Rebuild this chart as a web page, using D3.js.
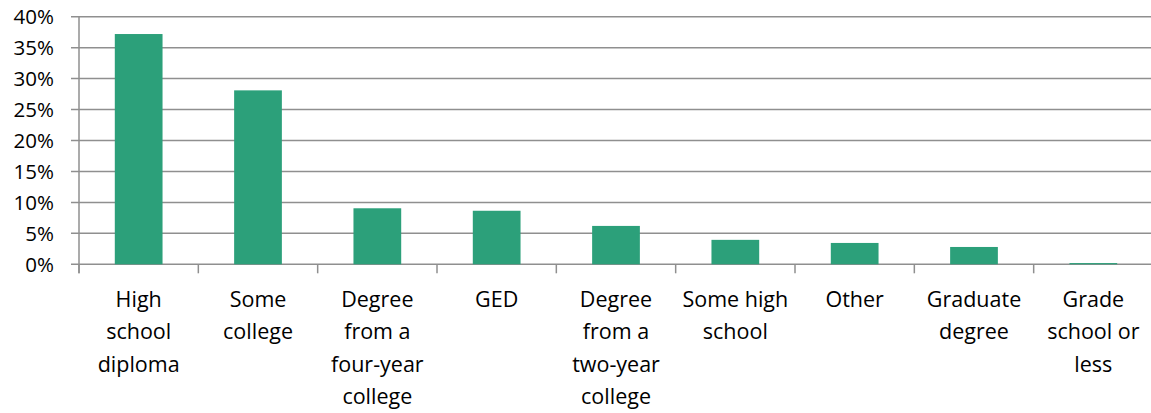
<!DOCTYPE html>
<html><head><meta charset="utf-8">
<script src="https://cdn.jsdelivr.net/npm/d3@7"></script>
<style>
html,body{margin:0;padding:0;background:#fff;}
svg{display:block;font-family:"Open Sans",sans-serif;}
</style></head>
<body>
<svg id="chart" width="1151" height="413"></svg>
<script>
const categories = ["High\nschool\ndiploma","Some\ncollege","Degree\nfrom a\nfour-year\ncollege","GED","Degree\nfrom a\ntwo-year\ncollege","Some high\nschool","Other","Graduate\ndegree","Grade\nschool or\nless"];
const values = [37.2, 28.1, 9.05, 8.65, 6.2, 3.95, 3.45, 2.8, 0.2];
const yTicks = [0,5,10,15,20,25,30,35,40];

const svg = d3.select("#chart");
const x0 = 79, x1 = 1153, yTop = 16.7, yBot = 264.3;
const x = d3.scaleBand().domain(categories).range([x0, x1]).paddingInner(0.6).paddingOuter(0.3);
const y = d3.scaleLinear().domain([0, 40]).range([yBot, yTop]);
const gridColor = "#8f8f8f";

svg.append("g").selectAll("line").data(yTicks).join("line")
  .attr("x1", 71).attr("x2", x1)
  .attr("y1", d => y(d)).attr("y2", d => y(d))
  .attr("stroke", gridColor).attr("stroke-width", 1.5);

svg.append("g").selectAll("text").data(yTicks).join("text")
  .attr("x", 54).attr("y", d => y(d)).attr("dy", "0.36em")
  .attr("text-anchor", "end").attr("font-size", "20.5px").attr("fill", "#000")
  .text(d => d + "%");

svg.append("line").attr("x1", x0).attr("x2", x0).attr("y1", yTop).attr("y2", yBot + 9)
  .attr("stroke", gridColor).attr("stroke-width", 1.5);

const bounds = d3.range(categories.length + 1).map(i => x0 + i * (x1 - x0) / categories.length);
svg.append("g").selectAll("line").data(bounds).join("line")
  .attr("x1", d => d).attr("x2", d => d).attr("y1", yBot).attr("y2", yBot + 9)
  .attr("stroke", gridColor).attr("stroke-width", 1.5);

svg.append("g").selectAll("rect").data(values).join("rect")
  .attr("x", (d, i) => x(categories[i]))
  .attr("width", x.bandwidth())
  .attr("y", d => y(d))
  .attr("height", d => yBot - y(d))
  .attr("fill", "#2ca07a");

const lab = svg.append("g").selectAll("text").data(categories).join("text")
  .attr("text-anchor", "middle").attr("font-size", "21.5px").attr("fill", "#000")
  .attr("transform", d => `translate(${x(d) + x.bandwidth() / 2},306.7)`);
lab.selectAll("tspan").data(d => d.split("\n")).join("tspan")
  .attr("x", 0).attr("y", (d, i) => i * 32.5).text(d => d);
</script>
</body></html>
